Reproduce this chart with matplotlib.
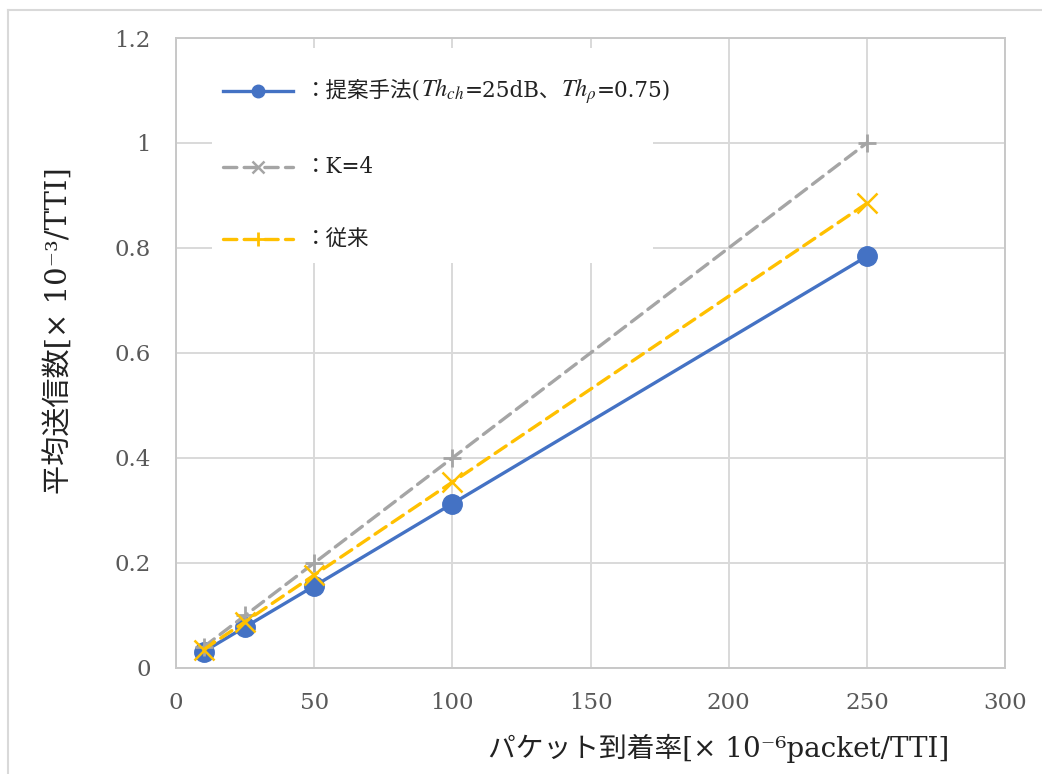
import matplotlib
matplotlib.use('Agg')
import matplotlib.pyplot as plt
from matplotlib.lines import Line2D
from matplotlib.patches import Rectangle
from matplotlib.ticker import FuncFormatter
from matplotlib.offsetbox import AnchoredOffsetbox, DrawingArea, TextArea, HPacker, VPacker

FAM = ['DejaVu Serif', 'Noto Sans CJK JP']
plt.rcParams['font.family'] = FAM
plt.rcParams['mathtext.fontset'] = 'stix'

# data
arrival = [10, 25, 50, 100, 250]
proposed = [0.031, 0.078, 0.156, 0.313, 0.784]
k4 = [0.04, 0.10, 0.20, 0.40, 1.00]
conventional = [0.035, 0.088, 0.177, 0.354, 0.885]

xlabel = 'パケット到着率[× 10⁻⁶packet/TTI]'
ylabel = '平均送信数[× 10⁻³/TTI]'
# legend label pieces (first one mixes CJK and math)
label1 = ['：提案手法(', '$Th_{ch}$', '=25dB、', '$Th_{\\rho}$', '=0.75)']
label2 = '：K=4'
label3 = '：従来'

blue = '#4472C4'
gray = '#A5A5A5'
yellow = '#FFC000'
grid_c = '#D9D9D9'
dash = (0, (4, 2.2))

fig = plt.figure(figsize=(10.42, 7.74), dpi=100)
ax = fig.add_axes([0.1689, 0.1370, 0.7956, 0.8139])

ax.plot(arrival, proposed, color=blue, lw=2.4, marker='o', ms=14, zorder=3)
ax.plot(arrival, k4, color=gray, lw=2.4, ls=dash, dash_capstyle='round',
        marker='+', ms=13, mew=2, zorder=4)
ax.plot(arrival, conventional, color=yellow, lw=2.4, ls=dash, dash_capstyle='round',
        marker='x', ms=14, mew=1.8, zorder=5)

ax.set_xlim(0, 300)
ax.set_ylim(0, 1.2)
ax.set_xticks(range(0, 301, 50))
ax.set_yticks([0, 0.2, 0.4, 0.6, 0.8, 1.0, 1.2])
ax.yaxis.set_major_formatter(FuncFormatter(lambda v, p: f'{v:g}'))
ax.grid(True, color=grid_c, lw=1.4, zorder=0)
ax.set_axisbelow(True)
for s in ax.spines.values():
    s.set_color('#C8C8C8')
    s.set_linewidth(1.4)
ax.tick_params(length=0, labelsize=16.5, colors='#595959')
ax.tick_params(axis='x', pad=17)
ax.tick_params(axis='y', pad=18)

ax.set_xlabel(xlabel, fontsize=20, color='#222222')
ax.set_ylabel(ylabel, fontsize=21, color='#222222')
ax.xaxis.set_label_coords(0.654, -0.104)
ax.yaxis.set_label_coords(-0.124, 0.536)

# hand-built legend (markers in the legend differ from the plotted ones, as in the original)
def handle(color, ls, marker, ms, mew):
    da = DrawingArea(52, 16, 0, 0)
    da.add_artist(Line2D([1, 51], [8, 8], color=color, lw=2.4, ls=ls, dash_capstyle='round'))
    da.add_artist(Line2D([26], [8], color=color, marker=marker, ms=ms, mew=mew, ls='none'))
    return da

tp = dict(family=FAM, size=15.5, color='#222222')
mp = dict(size=17.5, color='#222222', math_fontfamily='stix')

text1 = HPacker(children=[TextArea(t, textprops=(mp if t.startswith('$') else tp)) for t in label1],
                align='baseline', pad=0, sep=0)
rows = [
    HPacker(children=[handle(blue, '-', 'o', 9, 1), text1], align='center', pad=0, sep=8),
    HPacker(children=[handle(gray, dash, 'x', 8, 1.8), TextArea(label2, textprops=tp)],
            align='center', pad=0, sep=8),
    HPacker(children=[handle(yellow, dash, '+', 10, 2), TextArea(label3, textprops=tp)],
            align='center', pad=0, sep=8),
]
vp = VPacker(children=rows, align='left', pad=0, sep=36)
ab = AnchoredOffsetbox(loc='upper left', child=vp, pad=0, borderpad=0, frameon=False,
                       bbox_to_anchor=(222 / 1042, 1 - 76 / 774), bbox_transform=fig.transFigure)
ab.set_zorder(10)
ax.add_artist(ab)
ax.add_patch(Rectangle((212 / 1042, 1 - 263 / 774), 441 / 1042, 215 / 774, transform=fig.transFigure,
                       facecolor='white', edgecolor='none', zorder=8, clip_on=False))

# outer chart border
fig.add_artist(Line2D([8 / 1042, 1], [1 - 10 / 774, 1 - 10 / 774], color=grid_c, lw=1.5))
fig.add_artist(Line2D([8 / 1042, 8 / 1042], [0, 1 - 10 / 774], color=grid_c, lw=1.5))

fig.savefig('out.png', dpi=100)
